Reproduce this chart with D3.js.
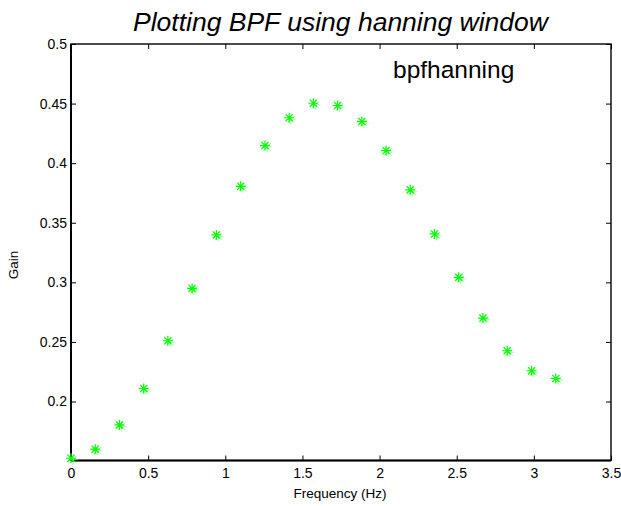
<!DOCTYPE html>
<html><head><meta charset="utf-8">
<script src="https://cdn.jsdelivr.net/npm/d3@7"></script>
<style>
body{margin:0;background:#fff;}
svg{display:block;font-family:Arial,"Liberation Sans",sans-serif;}
</style></head>
<body>
<svg id="c" width="621" height="506"></svg>
<script>
const freq = [0, 0.157, 0.314, 0.471, 0.628, 0.785, 0.942, 1.100, 1.257, 1.414, 1.571,
              1.728, 1.885, 2.042, 2.199, 2.356, 2.513, 2.670, 2.827, 2.985, 3.142];
const gain = [0.1524, 0.1600, 0.1804, 0.2109, 0.2510, 0.2949, 0.3398, 0.3806, 0.4148, 0.4381, 0.4503,
              0.4484, 0.4350, 0.4106, 0.3776, 0.3406, 0.3042, 0.2700, 0.2426, 0.2258, 0.2193];
const xTicks = [0, 0.5, 1, 1.5, 2, 2.5, 3, 3.5];
const yTicks = [0.2, 0.25, 0.3, 0.35, 0.4, 0.45, 0.5];
const titleText = "Plotting BPF using hanning window";
const legendText = "bpfhanning";
const xLabel = "Frequency (Hz)";
const yLabel = "Gain";

const L = 71, R = 611, T = 44, B = 460.5;
const svg = d3.select("#c");
const x = d3.scaleLinear().domain([0, 3.5]).range([L, R]);
const y = d3.scaleLinear().domain([0.1505, 0.5]).range([B, T]);
const fmt = d3.format("~g");

function styleAxis(g){
  g.select(".domain").remove();
  g.selectAll("line").attr("stroke","#000").attr("stroke-width",1);
  g.selectAll("text").attr("font-size",14).attr("fill","#000").attr("font-family","Arial, 'Liberation Sans', sans-serif");
}
svg.append("g").attr("transform",`translate(0,${B})`)
  .call(d3.axisBottom(x).tickValues(xTicks).tickFormat(fmt).tickSizeInner(-5).tickSizeOuter(0).tickPadding(8))
  .call(styleAxis);
svg.append("g").attr("transform",`translate(0,${T})`)
  .call(d3.axisTop(x).tickValues(xTicks).tickFormat("").tickSizeInner(-5).tickSizeOuter(0))
  .call(styleAxis);
svg.append("g").attr("transform",`translate(${L},0)`)
  .call(d3.axisLeft(y).tickValues(yTicks).tickFormat(fmt).tickSizeInner(-5).tickSizeOuter(0).tickPadding(4))
  .call(styleAxis);
svg.append("g").attr("transform",`translate(${R},0)`)
  .call(d3.axisRight(y).tickValues(yTicks).tickFormat("").tickSizeInner(-5).tickSizeOuter(0))
  .call(styleAxis);

svg.append("rect").attr("x",L).attr("y",T).attr("width",R-L).attr("height",B-T)
  .attr("fill","none").attr("stroke","#000").attr("stroke-width",1.4);
svg.append("line").attr("x1",L).attr("x2",L).attr("y1",T).attr("y2",B).attr("stroke","#000").attr("stroke-width",2);
svg.append("line").attr("x1",L).attr("x2",R).attr("y1",B).attr("y2",B).attr("stroke","#000").attr("stroke-width",2);

// asterisk markers
const s = 5, d = 3.6;
const star = `M${-s},0L${s},0M0,${-s}L0,${s}M${-d},${-d}L${d},${d}M${-d},${d}L${d},${-d}`;
const pts = freq.map((f,i)=>[f,gain[i]]);
const mk = svg.append("g");
mk.selectAll("path.ghost").data(pts).enter().append("path").attr("class","ghost")
  .attr("d",star).attr("transform",p=>`translate(${x(p[0])+2},${y(p[1])+1.5})`)
  .attr("stroke","#66ff66").attr("stroke-width",1).attr("fill","none").attr("opacity",0.6);
mk.selectAll("path.main").data(pts).enter().append("path").attr("class","main")
  .attr("d",star).attr("transform",p=>`translate(${x(p[0])},${y(p[1])})`)
  .attr("stroke","#00ff00").attr("stroke-width",1.2).attr("fill","none");

svg.append("text").attr("x",(133+548)/2).attr("y",31).attr("text-anchor","middle")
  .attr("font-size",26.5).attr("font-style","italic").text(titleText);
svg.append("text").attr("x",393).attr("y",78).attr("font-size",24.5).text(legendText);
svg.append("text").attr("x",340).attr("y",498).attr("text-anchor","middle").attr("font-size",13.5).text(xLabel);
svg.append("text").attr("transform","translate(18,265) rotate(-90)").attr("text-anchor","middle")
  .attr("font-size",13.5).text(yLabel);
</script>
</body></html>
